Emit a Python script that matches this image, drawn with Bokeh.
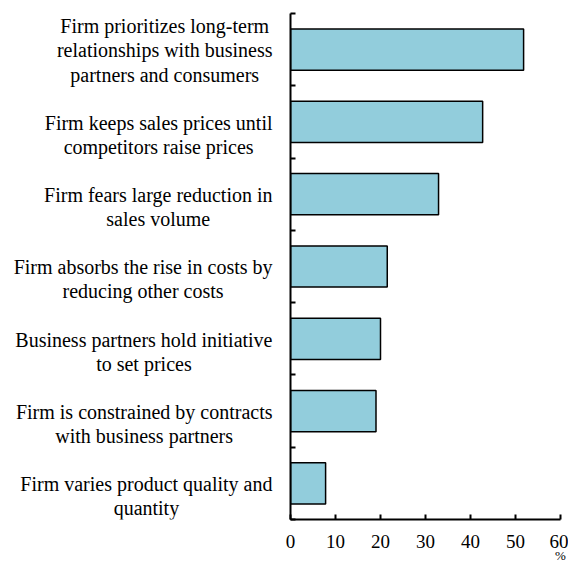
from bokeh.plotting import figure
from bokeh.layouts import row
from bokeh.models import Range1d, FixedTicker, LinearAxis, ColumnDataSource
from bokeh.core.properties import value
from bokeh.embed import file_html
from bokeh.resources import INLINE

categories = [
    "Firm prioritizes long-term\nrelationships with business\npartners and consumers",
    "Firm keeps sales prices until\ncompetitors raise prices",
    "Firm fears large reduction in\nsales volume",
    "Firm absorbs the rise in costs by\nreducing other costs",
    "Business partners hold initiative\nto set prices",
    "Firm is constrained by contracts\nwith business partners",
    "Firm varies product quality and\nquantity",
]
values = [51.8, 42.7, 32.9, 21.5, 20.0, 19.0, 7.8]
x_ticks = [0, 10, 20, 30, 40, 50, 60]
unit_label = "%"

FONT = "Liberation Serif"
n = len(categories)
centers = [n - 0.5 - i for i in range(n)]

TOP, FRAME_H, H = 13, 506, 568
LABEL_W = 280
MAIN_LEFT, FRAME_W, MAIN_RIGHT = 10, 270, 8
px_per_y = FRAME_H / n

# ---- left figure: category labels ----
lp = figure(width=LABEL_W, height=H, output_backend="svg", toolbar_location=None,
            x_range=Range1d(0, LABEL_W), y_range=Range1d(0, n),
            x_axis_type=None, y_axis_type=None,
            min_border_left=0, min_border_right=0,
            min_border_top=TOP, min_border_bottom=H - TOP - FRAME_H)
lp.outline_line_color = None
lp.xgrid.visible = False
lp.ygrid.visible = False

# label blocks are bottom-aligned a fixed distance below each bar's centre
label_y = [c - 36.0 / px_per_y for c in centers]
src = ColumnDataSource(dict(x=[272] * n, y=label_y, t=categories))
lp.text(x="x", y="y", text="t", source=src,
        text_align="center", text_baseline="middle", anchor="bottom_right",
        text_font=value(FONT), text_font_size=value("20px"),
        text_line_height=1.1, text_color="black")

# ---- main figure: bars ----
p = figure(width=MAIN_LEFT + FRAME_W + MAIN_RIGHT, height=H, output_backend="svg",
           toolbar_location=None, x_range=Range1d(0, 60), y_range=Range1d(0, n),
           min_border_left=MAIN_LEFT, min_border_right=MAIN_RIGHT,
           min_border_top=TOP, min_border_bottom=H - TOP - FRAME_H)
p.outline_line_color = None
p.xgrid.visible = False
p.ygrid.visible = False

p.hbar(y=centers, right=values, left=0, height=0.57,
       fill_color="#92CDDC", line_color="black", line_width=1.5)

xa = p.xaxis[0]
xa.ticker = FixedTicker(ticks=x_ticks)
xa.axis_line_width = 2
xa.major_tick_line_width = 2
xa.major_tick_in = 5
xa.major_tick_out = 0
xa.minor_tick_line_color = None
xa.major_label_text_font = FONT
xa.major_label_text_font_size = "19px"
xa.major_label_text_color = "black"
xa.major_label_standoff = 15

ua = LinearAxis(ticker=FixedTicker(ticks=[60]), major_label_overrides={60: unit_label},
                axis_line_color=None, major_tick_line_color=None,
                minor_tick_line_color=None, major_tick_in=0, major_tick_out=0,
                major_label_standoff=-3, major_label_text_font=FONT,
                major_label_text_font_size="13px", major_label_text_color="black")
p.add_layout(ua, "below")

ya = p.yaxis[0]
ya.ticker = FixedTicker(ticks=[], minor_ticks=list(range(n + 1)))
ya.axis_line_width = 2
ya.minor_tick_line_width = 2
ya.minor_tick_line_color = "black"
ya.minor_tick_in = 5
ya.minor_tick_out = 0
ya.major_tick_line_color = None
ya.major_label_standoff = 0

layout = row(lp, p, spacing=0)
open("out.html", "w").write(file_html(layout, INLINE))
